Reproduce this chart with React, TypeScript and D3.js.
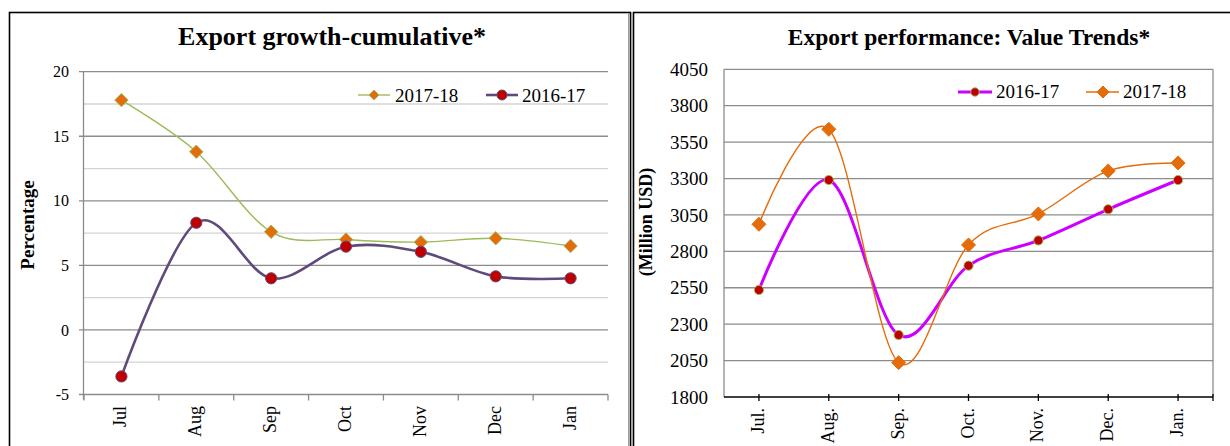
import React from "react";
import * as d3 from "d3";

// ---------- data ----------
const monthsLeft = ["Jul", "Aug", "Sep", "Oct", "Nov", "Dec", "Jan"];
const growth1718 = [17.8, 13.8, 7.6, 7.0, 6.8, 7.1, 6.5];
const growth1617 = [-3.6, 8.3, 4.0, 6.45, 6.05, 4.15, 4.0];
const leftMajorTicks = [-5, 0, 5, 10, 15, 20];
const leftMinorTicks = [-2.5, 2.5, 7.5, 12.5, 17.5];

const monthsRight = ["Jul.", "Aug.", "Sep.", "Oct.", "Nov.", "Dec.", "Jan."];
const value1617 = [2535, 3290, 2226, 2702, 2875, 3089, 3290];
const value1718 = [2986, 3638, 2036, 2844, 3057, 3352, 3407];
const rightTicks = [1800, 2050, 2300, 2550, 2800, 3050, 3300, 3550, 3800, 4050];

const FONT = "'Liberation Serif', 'Times New Roman', serif";

function diamond(cx: number, cy: number, r: number) {
  return `M${cx},${cy - r}L${cx + r},${cy}L${cx},${cy + r}L${cx - r},${cy}Z`;
}

function LeftChart() {
  const x = d3.scaleBand<string>().domain(monthsLeft).range([84, 608]).padding(0);
  const y = d3.scaleLinear().domain([-5, 20]).range([394.5, 71.7]);
  const cx = (m: string) => (x(m) as number) + x.bandwidth() / 2;
  const line = d3
    .line<number>()
    .x((_, i) => cx(monthsLeft[i]))
    .y((d) => y(d))
    .curve(d3.curveCardinal.tension(0));
  const boundaries = d3.range(monthsLeft.length + 1).map((i) => 84 + i * x.bandwidth());
  return (
    <g fontFamily={FONT}>
      {/* panel border */}
      <rect x={9.5} y={12.5} width={621} height={460} fill="none" stroke="#000" strokeWidth={1.6} />
      <line x1={628.5} x2={628.5} y1={13} y2={446} stroke="#9a9a9a" strokeWidth={1} />
      <text x={332} y={45} textAnchor="middle" fontSize={26} fontWeight="bold">
        Export growth-cumulative*
      </text>
      {/* minor grid */}
      {leftMinorTicks.map((t) => (
        <line key={"mn" + t} x1={84} x2={608} y1={y(t)} y2={y(t)} stroke="#d4d4d4" strokeWidth={1.3} />
      ))}
      {/* major grid */}
      {leftMajorTicks.map((t) => (
        <g key={"mj" + t}>
          <line x1={79} x2={608} y1={y(t)} y2={y(t)} stroke="#8c8c8c" strokeWidth={1.3} />
          <text x={69} y={y(t)} dy="0.35em" textAnchor="end" fontSize={16}>
            {t}
          </text>
        </g>
      ))}
      {/* y axis */}
      <line x1={83.5} x2={83.5} y1={y(20)} y2={y(-5) + 5} stroke="#8c8c8c" strokeWidth={1.3} />
      {/* x ticks */}
      {boundaries.map((b, i) => (
        <line key={"xt" + i} x1={b} x2={b} y1={y(-5)} y2={y(-5) + 6} stroke="#8c8c8c" strokeWidth={1.3} />
      ))}
      {monthsLeft.map((m) => (
        <text
          key={"xl" + m}
          transform={`translate(${cx(m) + 5},406) rotate(-90)`}
          textAnchor="end"
          fontSize={18}
        >
          {m}
        </text>
      ))}
      <text transform="translate(34,225) rotate(-90)" textAnchor="middle" fontSize={19} fontWeight="bold">
        Percentage
      </text>
      {/* series */}
      <path d={line(growth1718) || ""} fill="none" stroke="#9BBB59" strokeWidth={1.4} />
      {growth1718.map((v, i) => (
        <path key={"d" + i} d={diamond(cx(monthsLeft[i]), y(v), 6.7)} fill="#E46C0A" stroke="#9BBB59" strokeWidth={1} />
      ))}
      <path d={line(growth1617) || ""} fill="none" stroke="#604A7B" strokeWidth={2.6} />
      {growth1617.map((v, i) => (
        <circle key={"c" + i} cx={cx(monthsLeft[i])} cy={y(v)} r={5.6} fill="#C00000" stroke="#604A7B" strokeWidth={1} />
      ))}
      {/* legend */}
      <line x1={358} x2={390} y1={95} y2={95} stroke="#9BBB59" strokeWidth={1.4} />
      <path d={diamond(374, 95, 5)} fill="#E46C0A" stroke="#9BBB59" strokeWidth={1} />
      <text x={395} y={101.7} fontSize={19}>
        2017-18
      </text>
      <line x1={486} x2={518} y1={95} y2={95} stroke="#604A7B" strokeWidth={2.6} />
      <circle cx={502} cy={95} r={5} fill="#C00000" stroke="#604A7B" strokeWidth={1} />
      <text x={522} y={101.7} fontSize={19}>
        2016-17
      </text>
    </g>
  );
}

function RightChart() {
  const x = d3.scaleBand<string>().domain(monthsRight).range([724, 1213]).padding(0);
  const y = d3.scaleLinear().domain([1800, 4050]).range([397, 69.3]);
  const cx = (m: string) => (x(m) as number) + x.bandwidth() / 2;
  const line = d3
    .line<number>()
    .x((_, i) => cx(monthsRight[i]))
    .y((d) => y(d))
    .curve(d3.curveCardinal.tension(0));
  return (
    <g fontFamily={FONT}>
      <rect x={633.5} y={12.5} width={600} height={460} fill="none" stroke="#000" strokeWidth={1.6} />
      <line x1={632} x2={632} y1={13} y2={446} stroke="#9a9a9a" strokeWidth={1} />
      <text x={969} y={45} textAnchor="middle" fontSize={23.5} fontWeight="bold">
        Export performance: Value Trends*
      </text>
      {/* grid */}
      {rightTicks.map((t) => (
        <g key={"g" + t}>
          {t !== 1800 && (
            <line x1={724} x2={1213} y1={y(t)} y2={y(t)} stroke="#8c8c8c" strokeWidth={1.3} />
          )}
          <text x={708} y={y(t)} dy="0.35em" textAnchor="end" fontSize={19}>
            {t}
          </text>
        </g>
      ))}
      {/* plot border */}
      <line x1={724} x2={724} y1={y(4050)} y2={y(1800)} stroke="#8c8c8c" strokeWidth={1.3} />
      <line x1={1213} x2={1213} y1={y(4050)} y2={y(1800)} stroke="#8c8c8c" strokeWidth={1.3} />
      <line x1={724} x2={1213} y1={y(1800)} y2={y(1800)} stroke="#000" strokeWidth={1.6} />
      {monthsRight.map((m) => (
        <line key={"t" + m} x1={cx(m)} x2={cx(m)} y1={y(1800) - 3} y2={y(1800) + 4} stroke="#000" strokeWidth={1.3} />
      ))}
      <line x1={1213} x2={1213} y1={y(1800) - 3} y2={y(1800) + 4} stroke="#000" strokeWidth={1.3} />
      {monthsRight.map((m) => (
        <text
          key={"xl" + m}
          transform={`translate(${cx(m) + 5},408) rotate(-90)`}
          textAnchor="end"
          fontSize={18}
        >
          {m}
        </text>
      ))}
      <text transform="translate(652,222) rotate(-90)" textAnchor="middle" fontSize={18} fontWeight="bold">
        (Million USD)
      </text>
      {/* series */}
      <path d={line(value1617) || ""} fill="none" stroke="#CC00FF" strokeWidth={3} />
      {value1617.map((v, i) => (
        <circle key={"c" + i} cx={cx(monthsRight[i])} cy={y(v)} r={4.6} fill="#C00000" stroke="#9BBB59" strokeWidth={1} />
      ))}
      <path d={line(value1718) || ""} fill="none" stroke="#E46C0A" strokeWidth={1.4} />
      {value1718.map((v, i) => (
        <path key={"d" + i} d={diamond(cx(monthsRight[i]), y(v), 7)} fill="#E46C0A" stroke="#E46C0A" strokeWidth={1} />
      ))}
      {/* legend */}
      <line x1={958} x2={992} y1={92} y2={92} stroke="#CC00FF" strokeWidth={3} />
      <circle cx={975} cy={92} r={4.2} fill="#C00000" stroke="#9BBB59" strokeWidth={1} />
      <text x={996} y={98.3} fontSize={19}>
        2016-17
      </text>
      <line x1={1086} x2={1119} y1={92} y2={92} stroke="#E46C0A" strokeWidth={1.4} />
      <path d={diamond(1103, 92, 6)} fill="#E46C0A" stroke="#E46C0A" strokeWidth={1} />
      <text x={1123} y={98.3} fontSize={19}>
        2017-18
      </text>
    </g>
  );
}

export default function App() {
  return (
    <svg
      width={1230}
      height={446}
      style={{ position: "absolute", left: 0, top: 0, background: "#fff" }}
    >
      <rect x={0} y={0} width={1230} height={446} fill="#fff" />
      <LeftChart />
      <RightChart />
    </svg>
  );
}
